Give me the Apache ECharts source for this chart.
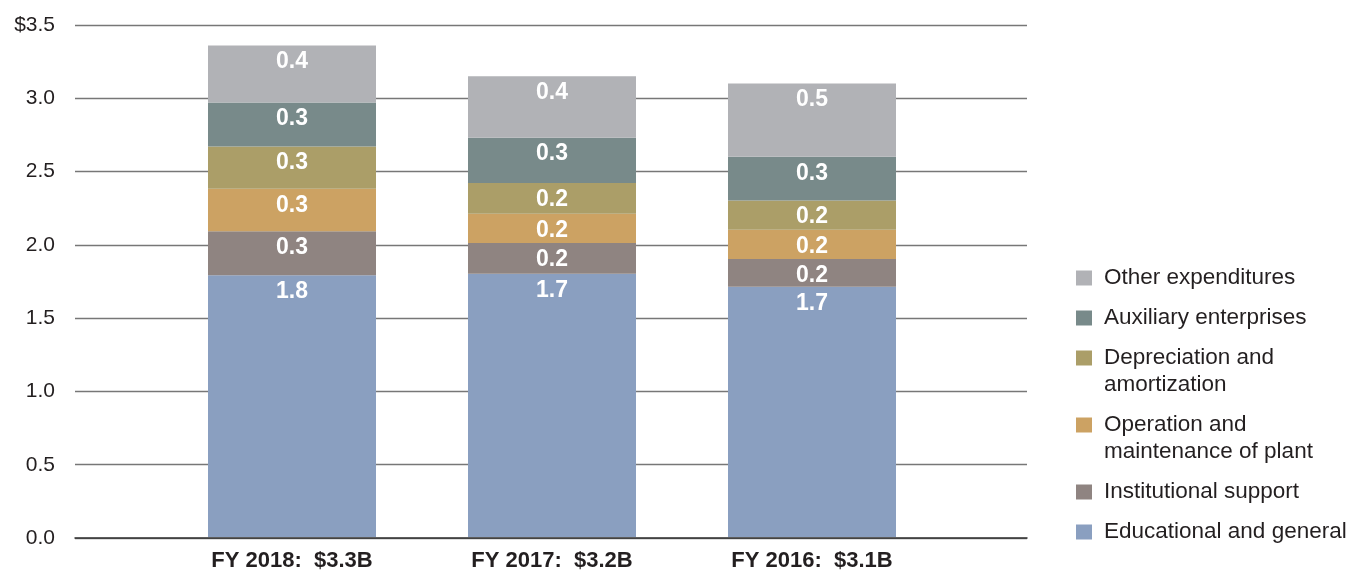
<!DOCTYPE html>
<html>
<head>
<meta charset="utf-8">
<script src="https://cdn.jsdelivr.net/npm/echarts@6/dist/echarts.min.js"></script>
<style>
html, body { margin: 0; padding: 0; background: #fff; }
#chart { width: 1359px; height: 572px; }
</style>
</head>
<body>
<div id="chart"></div>
<script>
// categories (fiscal years)
var years = ['FY 2018:  $3.3B', 'FY 2017:  $3.2B', 'FY 2016:  $3.1B'];
// series names, top of the stack first (legend order)
var names = ['Other expenditures', 'Auxiliary enterprises', 'Depreciation and\namortization',
             'Operation and\nmaintenance of plant', 'Institutional support', 'Educational and general'];
// segment heights ($B)
var educational = [1.79, 1.80, 1.71];
var institutional = [0.30, 0.21, 0.19];
var operation = [0.29, 0.20, 0.20];
var depreciation = [0.29, 0.21, 0.20];
var auxiliary = [0.30, 0.31, 0.30];
var other = [0.39, 0.42, 0.50];
// printed labels on the segments
var educationalLbl = ['1.8', '1.7', '1.7'];
var institutionalLbl = ['0.3', '0.2', '0.2'];
var operationLbl = ['0.3', '0.2', '0.2'];
var depreciationLbl = ['0.3', '0.2', '0.2'];
var auxiliaryLbl = ['0.3', '0.3', '0.3'];
var otherLbl = ['0.4', '0.4', '0.5'];
// y axis ticks
var yTicks = [0, 0.5, 1.0, 1.5, 2.0, 2.5, 3.0, 3.5];

var colors = {
    edu: '#8a9fc0',
    inst: '#8f8481',
    op: '#cca263',
    dep: '#ab9e68',
    aux: '#788a8a',
    other: '#b1b2b6'
};

var FONT = '"Liberation Sans", Arial, Helvetica, sans-serif';
var chart = echarts.init(document.getElementById('chart'));

//一段柱子
function barSeries(name, values, labels, color){
    return {
        name: name,
        type: 'bar',
        stack: 'total',
        xAxisIndex: 1,
        yAxisIndex: 1,
        barWidth: 168,
        data: values,
        itemStyle: { color: color, borderWidth: 0 },
        label: {
            show: true,
            position: 'insideTop',
            distance: 5,
            color: '#fff',
            fontFamily: FONT,
            fontWeight: 'bold',
            fontSize: 23,
            lineHeight: 23,
            formatter: function(p){ return labels[p.dataIndex]; }
        },
        emphasis: { disabled: true }
    };
}

//图例 (one per item so two-line names keep the marker on the first line)
var legendCenters = [278, 318, 358, 425, 492, 532];
var legends = [];
for (var i = 0; i < names.length; i++) {
    var twoLine = names[i].indexOf('\n') >= 0;
    legends.push({
        data: [names[i]],
        left: 1076,
        top: legendCenters[i] - (twoLine ? 40.5 : 13.5),
        padding: 0,
        icon: 'rect',
        itemWidth: 16,
        itemHeight: 15,
        itemGap: 0,
        selectedMode: false,
        formatter: twoLine ? function(n){ return ' \n' + n; } : '{name}',
        textStyle: {
            fontFamily: FONT,
            fontSize: 22.5,
            lineHeight: 27,
            color: '#231f20',
            padding: [0, 0, 0, 7]
        }
    });
}

var option = {
    animation: false,
    backgroundColor: '#fff',
    legend: legends,
    grid: [
        { left: 75, right: 332, top: 25, bottom: 34 },
        { left: 162, right: 417, top: 25, bottom: 34 }
    ],
    xAxis: [
        {
            gridIndex: 0,
            type: 'category',
            data: [''],
            axisLine: { show: true, lineStyle: { color: '#333', width: 1.5 } },
            axisTick: { show: false },
            axisLabel: { show: false }
        },
        {
            gridIndex: 1,
            type: 'category',
            data: years,
            axisLine: { show: false },
            axisTick: { show: false },
            axisLabel: {
                margin: 13,
                color: '#231f20',
                fontFamily: FONT,
                fontWeight: 'bold',
                fontSize: 22
            }
        }
    ],
    yAxis: [
        {
            gridIndex: 0,
            type: 'value',
            min: yTicks[0],
            max: yTicks[yTicks.length - 1],
            interval: 0.5,
            axisLine: { show: false },
            axisTick: { show: false },
            splitLine: { lineStyle: { color: '#777', width: 1.3 } },
            axisLabel: {
                margin: 20,
                color: '#231f20',
                fontFamily: FONT,
                fontSize: 21,
                formatter: function(v){
                    var s = v.toFixed(1);
                    return v === yTicks[yTicks.length - 1] ? '$' + s : s;
                }
            }
        },
        {
            gridIndex: 1,
            type: 'value',
            min: yTicks[0],
            max: yTicks[yTicks.length - 1],
            interval: 0.5,
            show: false,
            splitLine: { show: false }
        }
    ],
    series: [
        barSeries(names[5], educational, educationalLbl, colors.edu),
        barSeries(names[4], institutional, institutionalLbl, colors.inst),
        barSeries(names[3], operation, operationLbl, colors.op),
        barSeries(names[2], depreciation, depreciationLbl, colors.dep),
        barSeries(names[1], auxiliary, auxiliaryLbl, colors.aux),
        barSeries(names[0], other, otherLbl, colors.other)
    ]
};

chart.setOption(option);
</script>
</body>
</html>
